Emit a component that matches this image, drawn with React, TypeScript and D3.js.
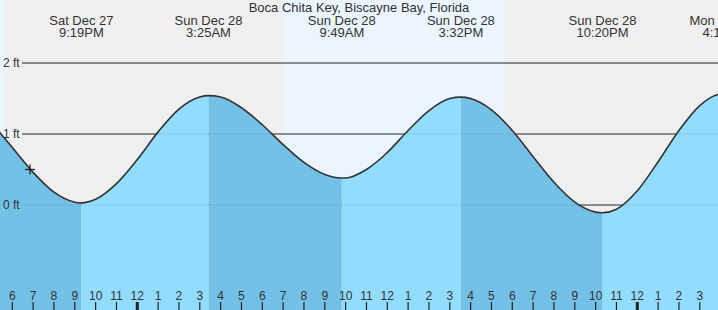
import React from "react";
import * as d3 from "d3";

const W = 718;
const H = 310;

const title = "Boca Chita Key, Biscayne Bay, Florida";

// hours counted from Sat Dec 27 00:00
const extremeHours = [21.317, 27.417, 33.817, 39.533, 46.333, 52.183];
const extremeHeights = [0.03, 1.54, 0.38, 1.52, -0.11, 1.56];
const extremeDates = ["Sat Dec 27", "Sun Dec 28", "Sun Dec 28", "Sun Dec 28", "Sun Dec 28", "Mon Dec 29"];
const extremeTimes = ["9:19PM", "3:25AM", "9:49AM", "3:32PM", "10:20PM", "4:11AM"];

const hourlyHours = [17, 18, 19, 20, 21, 22, 23, 24, 25, 26, 27, 28, 29, 30, 31, 32, 33, 34, 35, 36, 37, 38, 39, 40, 41, 42, 43, 44, 45, 46, 47, 48, 49, 50, 51, 52];
const hourlyHeights = [1.16, 0.81, 0.46, 0.18, 0.04, 0.08, 0.3, 0.64, 1.03, 1.35, 1.52, 1.52, 1.37, 1.13, 0.85, 0.6, 0.43, 0.38, 0.5, 0.74, 1.05, 1.33, 1.5, 1.5, 1.34, 1.05, 0.68, 0.32, 0.04, -0.1, -0.06, 0.2, 0.61, 1.05, 1.4, 1.56];

// previous extreme before the window (falling into the first low)
const prevExtremeHour = 14.8;

// daylight: [sunrise, sunset] pairs
const dayStarts = [10.0, 31.08];
const dayEnds = [17.65, 41.64];

const yTicks = [0, 1, 2];
const yTickLabels = ["0 ft", "1 ft", "2 ft"];

const nowHour = 18.85;
const nowHeight = 0.5;

const domainStart = 24 - 137.3 / (500 / 24);
const domainEnd = 24 + (W - 137.3) / (500 / 24);

export default function App() {
  const x = d3.scaleLinear().domain([domainStart, domainEnd]).range([0, W]);
  const y = d3.scaleLinear().domain([0, 2]).range([205, 63]);

  const pts: [number, number][] = [];
  hourlyHours.forEach((h, i) => pts.push([h, hourlyHeights[i]]));
  extremeHours.forEach((h, i) => pts.push([h, extremeHeights[i]]));
  pts.sort((a, b) => a[0] - b[0]);

  const area = d3
    .area<[number, number]>()
    .x((d) => x(d[0]))
    .y0(H)
    .y1((d) => y(d[1]))
    .curve(d3.curveMonotoneX);
  const line = d3
    .line<[number, number]>()
    .x((d) => x(d[0]))
    .y((d) => y(d[1]))
    .curve(d3.curveMonotoneX);

  const areaD = area(pts) || "";
  const lineD = line(pts) || "";

  const bounds = [prevExtremeHour, ...extremeHours, domainEnd + 5];
  const segs = [] as { x0: number; x1: number; falling: boolean }[];
  for (let i = 0; i < bounds.length - 1; i++) {
    const endH = i < extremeHeights.length ? extremeHeights[i] : 0;
    const startH = i === 0 ? 99 : extremeHeights[i - 1];
    segs.push({ x0: x(bounds[i]), x1: x(bounds[i + 1]), falling: endH < startH });
  }

  const hourTicks = d3.range(Math.ceil(domainStart), Math.floor(domainEnd) + 1);
  const font = "'Liberation Sans', Arial, sans-serif";

  return (
    <svg
      width={W}
      height={H}
      style={{ position: "absolute", left: 0, top: 0, display: "block" }}
      fontFamily={font}
    >
      <defs>
        {segs.map((s, i) => (
          <clipPath id={`seg${i}`} key={i}>
            <rect x={s.x0} y={0} width={Math.max(0, s.x1 - s.x0)} height={H} />
          </clipPath>
        ))}
      </defs>
      <rect x={0} y={0} width={W} height={H} fill="#efefef" />
      {dayStarts.map((s, i) => (
        <rect
          key={i}
          x={x(s)}
          y={0}
          width={x(dayEnds[i]) - x(s)}
          height={H}
          fill="#eaf5ff"
        />
      ))}
      {yTicks.map((t) => (
        <line key={t} x1={22} x2={W} y1={y(t)} y2={y(t)} stroke="#333" strokeWidth={1.2} />
      ))}
      {segs.map((s, i) => (
        <path
          key={i}
          d={areaD}
          fill={s.falling ? "#73c1e6" : "#92dcfe"}
          clipPath={`url(#seg${i})`}
        />
      ))}
      {yTicks.map((t) => (
        <line
          key={"o" + t}
          x1={22}
          x2={W}
          y1={y(t)}
          y2={y(t)}
          stroke="#000"
          strokeOpacity={0.08}
          strokeWidth={1.2}
        />
      ))}
      <path d={lineD} fill="none" stroke="#333" strokeWidth={1.6} />
      {yTicks.map((t, i) => (
        <text key={"l" + t} x={3} y={y(t) + 4} fontSize={12} fill="#333">
          {yTickLabels[i]}
        </text>
      ))}
      <g stroke="#222" strokeWidth={1.3}>
        <line x1={x(nowHour) - 5} x2={x(nowHour) + 5} y1={y(nowHeight)} y2={y(nowHeight)} />
        <line x1={x(nowHour)} x2={x(nowHour)} y1={y(nowHeight) - 5} y2={y(nowHeight) + 5} />
      </g>
      <text x={W / 2} y={12} fontSize={13} fill="#333" textAnchor="middle">
        {title}
      </text>
      {extremeHours.map((h, i) => (
        <g key={"e" + i} fill="#333" fontSize={13} textAnchor="middle">
          <text x={x(h)} y={25}>
            {extremeDates[i]}
          </text>
          <text x={x(h)} y={37}>
            {extremeTimes[i]}
          </text>
        </g>
      ))}
      {hourTicks.map((h) => {
        const hr = h % 24;
        const lbl = ((hr + 11) % 12) + 1;
        const mid = hr === 0;
        return (
          <g key={"t" + h}>
            <text x={x(h)} y={300} fontSize={12} fill="#333" textAnchor="middle">
              {lbl}
            </text>
            <line
              x1={x(h)}
              x2={x(h)}
              y1={302}
              y2={H}
              stroke="#222"
              strokeWidth={mid ? 3 : 1.2}
            />
          </g>
        );
      })}
    </svg>
  );
}
